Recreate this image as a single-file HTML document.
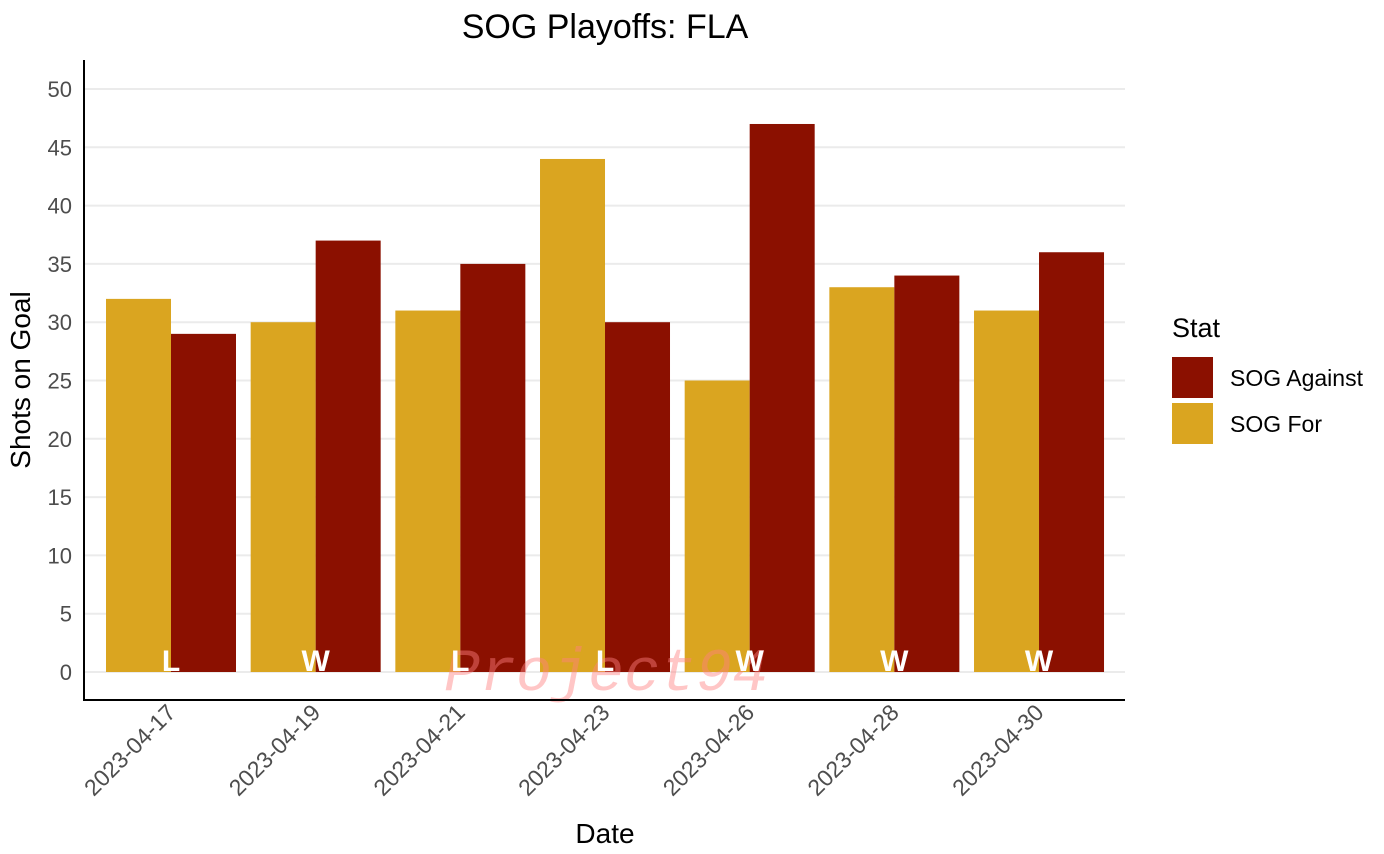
<!DOCTYPE html>
<html><head><meta charset="utf-8"><style>
html,body{margin:0;padding:0;background:#fff;}
svg{display:block;font-family:"Liberation Sans",Arial,sans-serif;}
</style></head><body>
<svg id="chart" width="1384" height="854" viewBox="0 0 1384 854" xmlns="http://www.w3.org/2000/svg">
<text x="605" y="38" font-size="34" text-anchor="middle" fill="#000">SOG Playoffs: FLA</text>
<g id="grid"></g>
<g id="bars"></g>
<text x="606" y="690" font-size="60" font-style="italic" font-family="'Liberation Mono',monospace" text-anchor="middle" fill="#ff8080" fill-opacity="0.45">Project94</text>
<g id="results"></g>
<line x1="84" y1="60" x2="84" y2="701" stroke="#000" stroke-width="2"/>
<line x1="83" y1="700" x2="1125" y2="700" stroke="#000" stroke-width="2"/>
<g id="yticks"></g>
<g id="xticks"></g>
<text transform="translate(30,380) rotate(-90)" font-size="28" text-anchor="middle" fill="#000">Shots on Goal</text>
<text x="605" y="843" font-size="28" text-anchor="middle" fill="#000">Date</text>
<g>
<text x="1172" y="337" font-size="27" fill="#000">Stat</text>
<rect x="1172" y="357" width="41" height="41" fill="#8b1000"/>
<text x="1230" y="386" font-size="23" fill="#000">SOG Against</text>
<rect x="1172" y="403" width="41" height="41" fill="#daa520"/>
<text x="1230" y="432" font-size="23" fill="#000">SOG For</text>
</g>
</svg>
<script>
const dates=["2023-04-17","2023-04-19","2023-04-21","2023-04-23","2023-04-26","2023-04-28","2023-04-30"];
const sogFor=[32,30,31,44,25,33,31];
const sogAgainst=[29,37,35,30,47,34,36];
const results=["L","W","L","L","W","W","W"];
const yTicks=[0,5,10,15,20,25,30,35,40,45,50];
const NS="http://www.w3.org/2000/svg";
const y=v=>672-v*(583/50);
const x=i=>171+i*144.67;
const bw=65;
function mk(tag,attrs,parent){const e=document.createElementNS(NS,tag);for(const k in attrs)e.setAttribute(k,attrs[k]);document.getElementById(parent).appendChild(e);return e;}
yTicks.forEach(t=>{
 const g=mk('line',{x1:84,x2:1125,y1:y(t),y2:y(t),stroke:'#ebebeb','stroke-width':2},'grid');
 
 
 const l=mk('text',{x:72,y:y(t)+8,'font-size':22,'text-anchor':'end',fill:'#4d4d4d'},'yticks');
 l.textContent=t;
 
 
});
dates.forEach((d,i)=>{
 const a=mk('rect',{x:x(i)-bw,y:y(sogFor[i]),width:bw,height:y(0)-y(sogFor[i]),fill:'#daa520'},'bars');
 
 
 const b=mk('rect',{x:x(i),y:y(sogAgainst[i]),width:bw,height:y(0)-y(sogAgainst[i]),fill:'#8b1000'},'bars');
 
 
 const r=mk('text',{x:x(i),y:y(0)-1,'font-size':30,'font-weight':'bold','text-anchor':'middle',fill:'#fff'},'results');
 r.textContent=results[i];
 
 
 const t=mk('text',{transform:`translate(${x(i)+6},${714}) rotate(-45)`,'font-size':23,'text-anchor':'end',fill:'#4d4d4d'},'xticks');
 t.textContent=d;
 
 
});
</script>
</body></html>
